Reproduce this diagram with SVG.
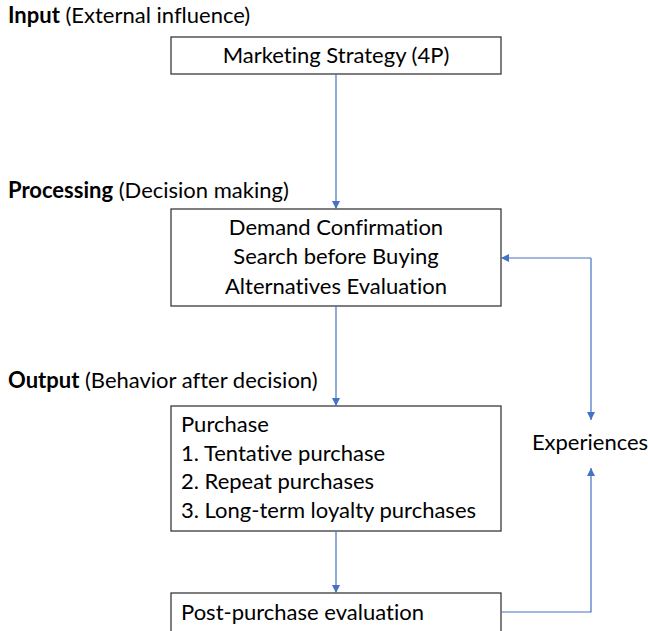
<svg xmlns="http://www.w3.org/2000/svg" width="648" height="631" viewBox="0 0 648 631">
  <style>
    .box { fill: #ffffff; stroke: #3a3a3a; stroke-width: 1.3; }
    .t { font-family: Lato, "Open Sans", sans-serif; font-size: 22px; fill: #000000; font-variant-ligatures: none; font-feature-settings: "liga" 0, "dlig" 0; }
    .c { text-anchor: middle; }
    .b { font-weight: bold; }
    .link { fill: none; stroke: #4472C4; stroke-width: 1.2; }
  </style>
  <defs>
    <marker id="arr" viewBox="0 0 10 10" refX="10" refY="5" markerWidth="8" markerHeight="8" markerUnits="userSpaceOnUse" orient="auto">
      <path d="M0,0 L10,5 L0,10 z" fill="#4472C4"/>
    </marker>
  </defs>

  <!-- stage headings -->
  <text class="t" x="8" y="23"><tspan class="b">Input</tspan> (External influence)</text>
  <text class="t" x="8" y="198"><tspan class="b">Processing</tspan> (Decision making)</text>
  <text class="t" x="8" y="388"><tspan class="b">Output</tspan> (Behavior after decision)</text>

  <g id="marketing">
    <rect class="box" x="171" y="37" width="330" height="37"/>
    <text class="t c" x="336" y="63">Marketing Strategy (4P)</text>
  </g>

  <g id="decision">
    <rect class="box" x="171" y="209" width="330" height="97"/>
    <text class="t c" x="336" y="235">Demand Confirmation</text>
    <text class="t c" x="336" y="264">Search before Buying</text>
    <text class="t c" x="336" y="294">Alternatives Evaluation</text>
  </g>

  <g id="purchase">
    <rect class="box" x="171" y="406" width="330" height="125"/>
    <text class="t" x="181" y="432">Purchase</text>
    <text class="t" x="181" y="461">1. Tentative purchase</text>
    <text class="t" x="181" y="489">2. Repeat purchases</text>
    <text class="t" x="181" y="518">3. Long-term loyalty purchases</text>
  </g>

  <g id="evaluation">
    <rect class="box" x="171" y="593" width="330" height="50"/>
    <text class="t" x="181" y="620">Post-purchase evaluation</text>
  </g>

  <g id="experiences">
    <text class="t c" x="590" y="450">Experiences</text>
  </g>

  <g id="connectors">
    <line class="link" x1="336" y1="74" x2="336" y2="209" marker-end="url(#arr)"/>
    <line class="link" x1="336" y1="306" x2="336" y2="406" marker-end="url(#arr)"/>
    <line class="link" x1="336" y1="531" x2="336" y2="593" marker-end="url(#arr)"/>
    <path class="link" d="M501,612 H591 V468" marker-end="url(#arr)"/>
    <line class="link" x1="591" y1="258" x2="501" y2="258" marker-end="url(#arr)"/>
    <line class="link" x1="591" y1="258" x2="591" y2="420" marker-end="url(#arr)"/>
  </g>
</svg>
